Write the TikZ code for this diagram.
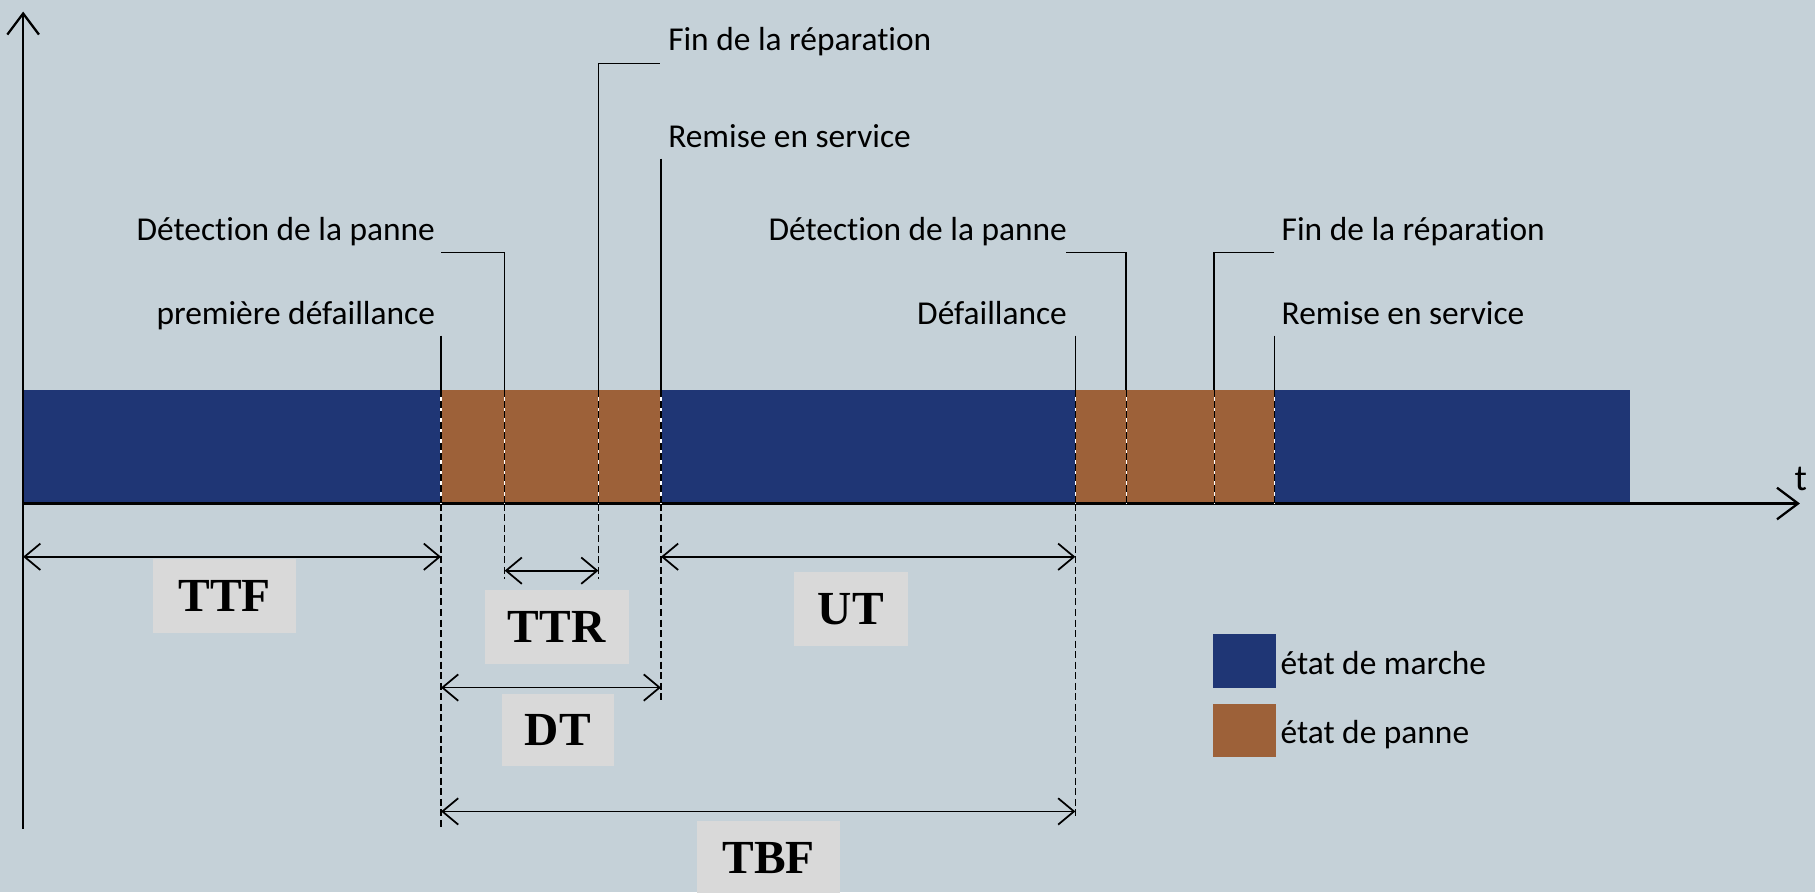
\documentclass[tikz,border=0pt]{standalone}
\usepackage{fontspec}
\setmainfont{Carlito}[Ligatures=NoCommon]
\newfontfamily\dimfont{Liberation Serif}
\usetikzlibrary{arrows.meta, positioning}
\definecolor{bgcol}{RGB}{197,209,216}
\definecolor{marche}{RGB}{31,54,117}
\definecolor{panne}{RGB}{157,97,57}
\definecolor{boxgray}{RGB}{217,217,217}

\begin{document}
\begin{tikzpicture}[x=0.02315cm, y=-0.02315cm,
  lbl/.style={font=\fontsize{19}{22}\selectfont, inner sep=0},
  dimlbl/.style={fill=boxgray, font=\dimfont\bfseries\fontsize{27}{30}\selectfont,
    minimum width=2.87cm, minimum height=1.48cm, inner sep=0},
  dimarrow/.style={{Straight Barb[length=9pt,width=15pt]}-{Straight Barb[length=9pt,width=15pt]}, line width=1pt},
  axis/.style={line width=1.3pt, -{Straight Barb[length=12pt,width=18pt]}},
  guide/.style={line width=0.9pt},
  cut/.style={line width=0.8pt, dash pattern=on 4pt off 2pt}]

  % Background
  \fill[bgcol] (0,0) rectangle (1568,771);
  \useasboundingbox (0,0) rectangle (1568,771);

  % Bars
  \fill[marche] (20,337) rectangle (381,435);
  \fill[panne] (381,337) rectangle (571,435);
  \fill[marche] (571,337) rectangle (929,435);
  \fill[panne] (929,337) rectangle (1101,435);
  \fill[marche] (1101,337) rectangle (1408,435);

  % Axes
  \coordinate (origin) at (20,435);
  \coordinate (ytop) at (20,10);
  \coordinate (ybot) at (20,716);
  \coordinate (xend) at (1555,435);
  \draw[axis] (ybot) -- (ytop);
  \draw[axis] (origin) -- (xend);
  \node[lbl, font=\fontsize{21}{24}\selectfont, anchor=base west] (tlabel) at (1550,424) {t};

  % Cuts through the bar
  \foreach \x in {381,436,517,571,929,973,1049,1101} {
    \draw[white, line width=0.8pt] (\x,337) -- (\x,435);
    \draw[cut] (\x,337) -- (\x,435);
  }

  % Events, first failure
  \node[lbl, anchor=base east] (fail1) at (376,280) {première défaillance};
  \coordinate (fail1top) at (381,290);
  \coordinate (fail1bar) at (381,337);
  \draw[guide] (fail1top) -- (fail1bar);

  \node[lbl, anchor=base east] (detect1) at (376,208) {Détection de la panne};
  \coordinate (detect1corner) at (381,218);
  \coordinate (detect1bar) at (436,337);
  \draw[guide] (detect1corner) -| (detect1bar);

  \node[lbl, anchor=base west] (repair1) at (577,44) {Fin de la réparation};
  \coordinate (repair1corner) at (570,55);
  \coordinate (repair1bar) at (517,337);
  \draw[guide] (repair1corner) -| (repair1bar);

  \node[lbl, anchor=base west] (restart1) at (577,127) {Remise en service};
  \coordinate (restart1top) at (571,137);
  \coordinate (restart1bar) at (571,337);
  \draw[guide] (restart1top) -- (restart1bar);

  % Events, second failure
  \node[lbl, anchor=base east] (fail2) at (922,280) {Défaillance};
  \coordinate (fail2top) at (929,290);
  \coordinate (fail2bar) at (929,337);
  \draw[guide] (fail2top) -- (fail2bar);

  \node[lbl, anchor=base east] (detect2) at (922,208) {Détection de la panne};
  \coordinate (detect2corner) at (921,218);
  \coordinate (detect2bar) at (973,337);
  \draw[guide] (detect2corner) -| (detect2bar);

  \node[lbl, anchor=base west] (repair2) at (1107,208) {Fin de la réparation};
  \coordinate (repair2corner) at (1101,218);
  \coordinate (repair2bar) at (1049,337);
  \draw[guide] (repair2corner) -| (repair2bar);

  \node[lbl, anchor=base west] (restart2) at (1107,280) {Remise en service};
  \coordinate (restart2top) at (1101,290);
  \coordinate (restart2bar) at (1101,337);
  \draw[guide] (restart2top) -- (restart2bar);

  % Extension lines below the axis
  \coordinate (ext1) at (381,716);
  \coordinate (ext2) at (436,500);
  \coordinate (ext3) at (517,500);
  \coordinate (ext4) at (571,608);
  \coordinate (ext5) at (929,708);
  \draw[cut] (381,435) -- (ext1);
  \draw[cut] (436,435) -- (ext2);
  \draw[cut] (517,435) -- (ext3);
  \draw[cut] (571,435) -- (ext4);
  \draw[cut] (929,435) -- (ext5);

  % Durations
  \coordinate (ttfA) at (20,481);   \coordinate (ttfB) at (381,481);
  \coordinate (ttrA) at (436,493);  \coordinate (ttrB) at (517,493);
  \coordinate (utA) at (571,481);   \coordinate (utB) at (929,481);
  \coordinate (dtA) at (381,594);   \coordinate (dtB) at (571,594);
  \coordinate (tbfA) at (381,701);  \coordinate (tbfB) at (929,701);
  \draw[dimarrow] (ttfA) -- (ttfB);
  \draw[dimarrow] (ttrA) -- (ttrB);
  \draw[dimarrow] (utA) -- (utB);
  \draw[dimarrow] (dtA) -- (dtB);
  \draw[dimarrow] (tbfA) -- (tbfB);

  \node[dimlbl] (ttf) at (194,515) {TTF};
  \node[dimlbl] (ttr) at (481,542) {TTR};
  \node[dimlbl, minimum width=2.27cm] (ut) at (735,526) {UT};
  \node[dimlbl, minimum width=2.25cm, minimum height=1.44cm] (dt) at (482,631) {DT};
  \node[dimlbl] (tbf) at (664,741) {TBF};

  % Legend
  \fill[marche] (1048,548) rectangle (1102,594);
  \node[lbl, anchor=base west] (legmarche) at (1106,583) {état de marche};
  \fill[panne] (1048,608) rectangle (1102,654);
  \node[lbl, anchor=base west] (legpanne) at (1106,642) {état de panne};
\end{tikzpicture}
\end{document}
